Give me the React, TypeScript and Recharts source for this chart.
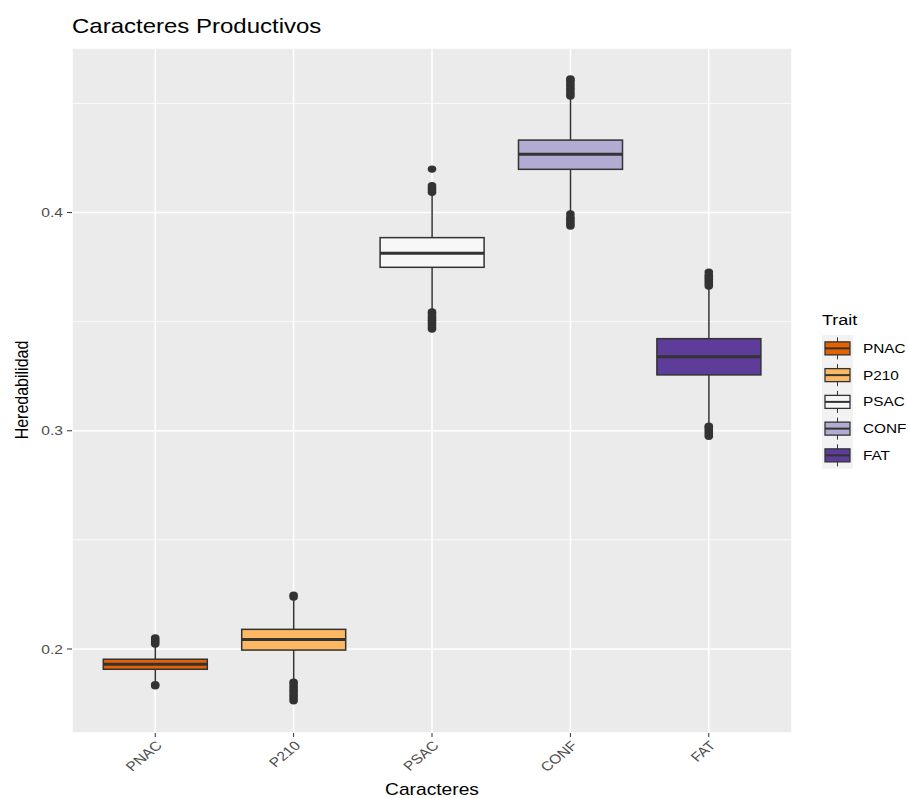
import { ComposedChart, Bar, Scatter, XAxis, YAxis, CartesianGrid } from 'recharts';

const categories = ['PNAC', 'P210', 'PSAC', 'CONF', 'FAT'];
const q1 = [0.1907, 0.1995, 0.3749, 0.4198, 0.3256];
const medians = [0.193, 0.2044, 0.3813, 0.4267, 0.3339];
const q3 = [0.1953, 0.209, 0.3885, 0.4332, 0.3422];
const whiskerLow = [0.1852, 0.1855, 0.3548, 0.4005, 0.3027];
const whiskerHigh = [0.2012, 0.2225, 0.4085, 0.4525, 0.3655];

const outliersPNAC = [0.1831, 0.1836, 0.2023, 0.2032, 0.2041, 0.205];
const outliersP210 = [0.1763, 0.1775, 0.1786, 0.1798, 0.181, 0.1822, 0.1835, 0.1848, 0.2238, 0.2247];
const outliersPSAC = [0.3466, 0.3476, 0.3486, 0.3496, 0.3506, 0.3516, 0.3526, 0.3536, 0.3544, 0.4093, 0.4103, 0.4113, 0.4123, 0.4199];
const outliersCONF = [0.3938, 0.3948, 0.3958, 0.3968, 0.3978, 0.3993, 0.4534, 0.4546, 0.4558, 0.457, 0.4582, 0.4594, 0.4606, 0.4612];
const outliersFAT = [0.2975, 0.2985, 0.2995, 0.3005, 0.3014, 0.3021, 0.3663, 0.3673, 0.3683, 0.3693, 0.3703, 0.3713, 0.3727];

const fills = ['#E66101', '#FDB863', '#F7F7F7', '#B2ABD2', '#5E3C99'];
const majorTicks = [0.2, 0.3, 0.4];
const minorTicks = [0.25, 0.35, 0.45];
const yDomain = [0.1615, 0.4754];

const FONT = '"Liberation Sans", Arial, Helvetica, sans-serif';
const STRETCH = 1.2;

const rows = categories.map((name, i) => ({
  name,
  q1: q1[i],
  median: medians[i],
  q3: q3[i],
  lo: whiskerLow[i],
  hi: whiskerHigh[i],
  fill: fills[i],
}));

const outlierSets = [outliersPNAC, outliersP210, outliersPSAC, outliersCONF, outliersFAT];
const outlierPoints = outlierSets.flatMap((vals, i) => vals.map((value) => ({ name: categories[i], value })));

// box + whiskers + median, positioned from the bar's own [q1, q3] geometry
const BoxShape = (props: any) => {
  const { x, y, width, height, payload } = props;
  const top = Math.min(y, y + height);
  const h = Math.abs(height);
  const ratio = h / (payload.q3 - payload.q1);
  const yOf = (v: number) => top + (payload.q3 - v) * ratio;
  const cx = x + width / 2;
  return (
    <g>
      <line x1={cx} x2={cx} y1={yOf(payload.hi)} y2={top} stroke="#333333" strokeWidth={1.5} />
      <line x1={cx} x2={cx} y1={top + h} y2={yOf(payload.lo)} stroke="#333333" strokeWidth={1.5} />
      <rect x={x} y={top} width={width} height={h} fill={payload.fill} stroke="#333333" strokeWidth={1.5} />
      <line x1={x} x2={x + width} y1={yOf(payload.median)} y2={yOf(payload.median)} stroke="#333333" strokeWidth={3} />
    </g>
  );
};

const OutlierDot = (props: any) => {
  const { cx, cy } = props;
  return <ellipse cx={cx} cy={cy} rx={4.3} ry={3.7} fill="#333333" />;
};

const YTick = (props: any) => {
  const { x, y, payload } = props;
  return (
    <text
      transform={`translate(${x},${y}) scale(${STRETCH},1)`}
      textAnchor="end"
      dy="0.35em"
      fontSize={13}
      fontFamily={FONT}
      fill="#4D4D4D"
    >
      {payload.value.toFixed(1)}
    </text>
  );
};

const XTick = (props: any) => {
  const { x, y, payload } = props;
  return (
    <text
      transform={`translate(${x},${y + 1}) scale(${STRETCH},1) rotate(-45)`}
      textAnchor="end"
      dy="0.7em"
      fontSize={13}
      fontFamily={FONT}
      fill="#4D4D4D"
    >
      {payload.value}
    </text>
  );
};

const Overlay = () => {
  const rowH = 26.75;
  const firstRow = 335;
  return (
    <svg width={908} height={798} style={{ position: 'absolute', left: 0, top: 0, pointerEvents: 'none' }}>
      <text transform={`translate(72,33) scale(${STRETCH},1)`} fontSize={20} fontFamily={FONT} fill="#000">
        Caracteres Productivos
      </text>
      <text transform={`translate(432,795) scale(${STRETCH},1)`} textAnchor="middle" fontSize={16} fontFamily={FONT} fill="#000">
        Caracteres
      </text>
      <text transform={`translate(28,390) scale(${STRETCH},1) rotate(-90)`} textAnchor="middle" fontSize={16} fontFamily={FONT} fill="#000">
        Heredabilidad
      </text>
      <text transform={`translate(822,325) scale(${STRETCH},1)`} fontSize={15} fontFamily={FONT} fill="#000">
        Trait
      </text>
      <rect x={822} y={firstRow} width={31} height={rowH * categories.length} fill="#F2F2F2" />
      {categories.map((name, i) => {
        const cy = firstRow + rowH * i + rowH / 2;
        return (
          <g key={name}>
            <line x1={837.5} x2={837.5} y1={cy - 11} y2={cy + 11} stroke="#333333" strokeWidth={1} />
            <rect x={825} y={cy - 6.5} width={25} height={13} fill={fills[i]} stroke="#333333" strokeWidth={1.3} />
            <line x1={825} x2={850} y1={cy} y2={cy} stroke="#333333" strokeWidth={2} />
            <text transform={`translate(863,${cy}) scale(${STRETCH},1)`} dy="0.35em" fontSize={12.8} fontFamily={FONT} fill="#000">
              {name}
            </text>
          </g>
        );
      })}
    </svg>
  );
};

const App = () => {
  return (
    <div style={{ position: 'absolute', left: 0, top: 0, width: 908, height: 798, background: '#fff' }}>
      <ComposedChart
        width={908}
        height={798}
        data={rows}
        margin={{ top: 48, right: 116, bottom: 20, left: 32 }}
        barCategoryGap="12.5%"
      >
        <CartesianGrid yAxisId="minor" fill="#EBEBEB" stroke="#FFFFFF" strokeWidth={0.8} vertical={false} />
        <CartesianGrid yAxisId="main" stroke="#FFFFFF" strokeWidth={1.6} />
        <XAxis
          dataKey="name"
          type="category"
          allowDuplicatedCategory={false}
          padding={{ left: 14, right: 14 }}
          height={45}
          axisLine={false}
          tickLine={{ stroke: '#333333' }}
          tickSize={4}
          tickMargin={2}
          tick={<XTick />}
          interval={0}
        />
        <YAxis
          yAxisId="main"
          type="number"
          domain={yDomain}
          allowDataOverflow
          ticks={majorTicks}
          interval={0}
          width={40}
          axisLine={false}
          tickLine={{ stroke: '#333333' }}
          tickSize={5}
          tickMargin={4}
          tick={<YTick />}
        />
        <YAxis yAxisId="minor" type="number" domain={yDomain} allowDataOverflow ticks={minorTicks} hide />
        <Bar
          yAxisId="main"
          dataKey={(d: any) => [d.q1, d.q3]}
          shape={<BoxShape />}
          isAnimationActive={false}
        />
        <Scatter
          yAxisId="main"
          data={outlierPoints}
          dataKey="value"
          shape={<OutlierDot />}
          isAnimationActive={false}
        />
      </ComposedChart>
      <Overlay />
    </div>
  );
};

export default App;
